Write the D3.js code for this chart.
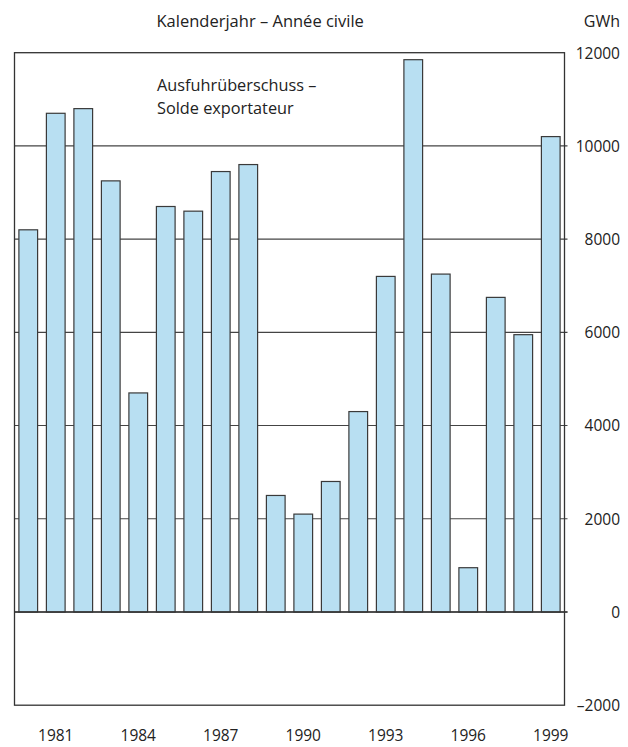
<!DOCTYPE html>
<html>
<head>
<meta charset="utf-8">
<script src="https://cdn.jsdelivr.net/npm/d3@7"></script>
<style>
  html, body { margin: 0; padding: 0; background: #fff; }
  svg text { font-family: "Open Sans", "Noto Sans", sans-serif; fill: #222; }
</style>
</head>
<body>
<svg id="chart" width="628" height="747"></svg>
<script>
const years = [1980,1981,1982,1983,1984,1985,1986,1987,1988,1989,1990,1991,1992,1993,1994,1995,1996,1997,1998,1999];
const surplus = [8200,10700,10800,9250,4700,8700,8600,9450,9600,2500,2100,2800,4300,7200,11850,7250,950,6750,5950,10200];
const xTickYears = [1981,1984,1987,1990,1993,1996,1999];
const yTicks = [-2000,0,2000,4000,6000,8000,10000,12000];
const titleText = "Kalenderjahr – Année civile";
const unitText = "GWh";
const noteLines = ["Ausfuhrüberschuss –", "Solde exportateur"];

const svg = d3.select("#chart");
const pLeft = 14.5, pRight = 564.5, pTop = 52.7, pBottom = 705.2;

const x = d3.scaleBand().domain(years).range([pLeft, pRight]).paddingInner(0.32).paddingOuter(0.16);
const y = d3.scaleLinear().domain([-2000, 12000]).range([pBottom, pTop]);

// gridlines
svg.append("g").selectAll("line")
  .data(yTicks.filter(t => t > -2000 && t < 12000))
  .join("line")
  .attr("x1", pLeft).attr("x2", pRight + 3)
  .attr("y1", d => y(d)).attr("y2", d => y(d))
  .attr("stroke", "#444").attr("stroke-width", 1.1);

// bars
svg.append("g").selectAll("rect")
  .data(years)
  .join("rect")
  .attr("x", d => x(d))
  .attr("width", x.bandwidth())
  .attr("y", (d, i) => y(Math.max(0, surplus[i])))
  .attr("height", (d, i) => Math.abs(y(surplus[i]) - y(0)))
  .attr("fill", "#b8dff2")
  .attr("stroke", "#3a3a3a")
  .attr("stroke-width", 1.2);

// zero line over bars
svg.append("line")
  .attr("x1", pLeft).attr("x2", pRight + 3)
  .attr("y1", y(0)).attr("y2", y(0))
  .attr("stroke", "#333").attr("stroke-width", 1.3);

// frame
svg.append("rect")
  .attr("x", pLeft).attr("y", pTop)
  .attr("width", pRight - pLeft).attr("height", pBottom - pTop)
  .attr("fill", "none").attr("stroke", "#333").attr("stroke-width", 1.3);

// right axis
const yAxis = d3.axisRight(y).tickValues(yTicks).tickSize(0).tickPadding(0)
  .tickFormat(d => d < 0 ? "\u2013" + Math.abs(d) : String(d));
const gy = svg.append("g").attr("transform", `translate(620,0)`).call(yAxis);
gy.select(".domain").remove();
gy.selectAll("text").attr("text-anchor", "end").attr("x", 0)
  .style("font-size", "15.5px").attr("dy", "0.35em");

// bottom axis labels
const xAxis = d3.axisBottom(x).tickValues(xTickYears).tickSize(0).tickPadding(0);
const gx = svg.append("g").attr("transform", `translate(0,741)`).call(xAxis);
gx.select(".domain").remove();
gx.selectAll("text").attr("dy", 0).attr("y", 0).style("font-size", "15.5px");

// title
svg.append("text").attr("x", 156.5).attr("y", 26.5)
  .style("font-size", "16.5px").text(titleText);
svg.append("text").attr("x", 620).attr("y", 26.5).attr("text-anchor", "end")
  .style("font-size", "16px").text(unitText);

// note
svg.append("g").selectAll("text").data(noteLines).join("text")
  .attr("x", 157).attr("y", (d, i) => 91 + i * 22.5)
  .style("font-size", "16.3px").text(d => d);
</script>
</body>
</html>
